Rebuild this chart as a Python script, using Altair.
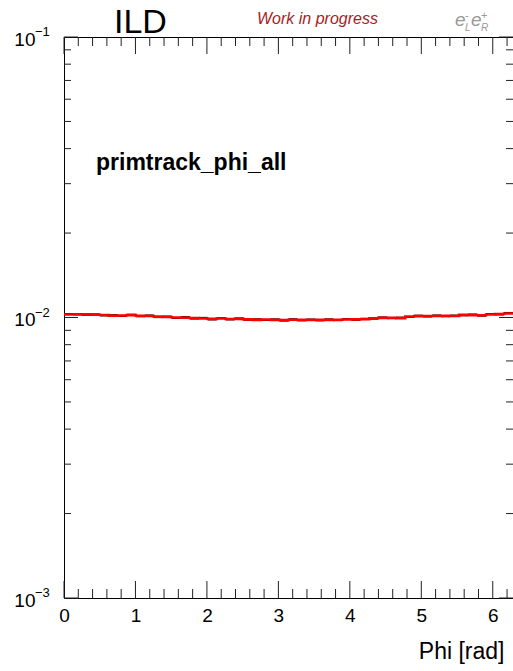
import math
import numpy as np
import pandas as pd
import altair as alt

FONT = "Liberation Sans"
TWO_PI = 2 * math.pi
W, H = 449, 561

# Normalised track yield per phi bin (50 bins over 0..2pi)
sim_values = [
    0.01025, 0.01025, 0.01026, 0.01023, 0.01021, 0.01015, 0.01017, 0.01020, 0.01014, 0.01012,
    0.01007, 0.01004, 0.01000, 0.00998, 0.00996, 0.00992, 0.00989, 0.00992, 0.00988, 0.00989,
    0.00985, 0.00981, 0.00984, 0.00981, 0.00979, 0.00982, 0.00981, 0.00980, 0.00981, 0.00981,
    0.00982, 0.00984, 0.00985, 0.00986, 0.00994, 0.00997, 0.00998, 0.00995, 0.01008, 0.01011,
    0.01012, 0.01012, 0.01014, 0.01012, 0.01022, 0.01020, 0.01019, 0.01025, 0.01029, 0.01033,
]
ref_values = [
    0.01029, 0.01027, 0.01022, 0.01026, 0.01017, 0.01019, 0.01013, 0.01023, 0.01010, 0.01017,
    0.01003, 0.01008, 0.00996, 0.01003, 0.00991, 0.00997, 0.00984, 0.00995, 0.00984, 0.00993,
    0.00981, 0.00986, 0.00980, 0.00985, 0.00975, 0.00986, 0.00977, 0.00984, 0.00977, 0.00985,
    0.00978, 0.00988, 0.00981, 0.00990, 0.00990, 0.01001, 0.00994, 0.00999, 0.01004, 0.01015,
    0.01008, 0.01017, 0.01010, 0.01016, 0.01018, 0.01025, 0.01015, 0.01029, 0.01025, 0.01038,
]

x_major = [0, 1, 2, 3, 4, 5, 6]
x_minor = [round(0.2 * i, 1) for i in range(32) if i % 5 != 0]
y_major = [0.001, 0.01, 0.1]
y_exponents = ["\u22123", "\u22122", "\u22121"]
y_minor = [m * 10.0 ** e for e in (-3, -2) for m in range(2, 10)]

n_bins = len(sim_values)
edges = np.linspace(0, TWO_PI, n_bins + 1)

xs = alt.Scale(domain=[0, TWO_PI], nice=False, zero=False)
ys = alt.Scale(type="log", domain=[0.001, 0.1], nice=False)

x_axis = alt.Axis(values=x_major, format="d", ticks=False, domain=False, grid=False,
                  labelFontSize=19, labelFont=FONT, labelColor="#000", labelPadding=8,
                  labelFlush=False, title="Phi [rad]", titleFont=FONT, titleFontSize=23,
                  titleFontWeight="normal", titleColor="#000", titleAnchor="end",
                  titleAlign="right", titleBaseline="alphabetic", titleX=W - 9, titleY=60)
y_axis = alt.Axis(values=y_major, labelExpr="'10'", ticks=False, domain=False, grid=False,
                  labelFontSize=19, labelFont=FONT, labelColor="#000", labelPadding=29,
                  labelBaseline="middle", labelOffset=2, title=None)

# reference histogram: one horizontal segment per bin
ref_df = pd.DataFrame({"lo": edges[:-1], "hi": edges[1:], "v": ref_values})
ref = alt.Chart(ref_df).mark_rule(color="#000", strokeWidth=2).encode(
    x=alt.X("lo:Q", scale=xs, axis=x_axis), x2="hi:Q",
    y=alt.Y("v:Q", scale=ys, axis=y_axis),
)

# simulation histogram drawn as a step line
sim_df = pd.DataFrame({"x": edges, "v": sim_values + [sim_values[-1]]})
sim = alt.Chart(sim_df).mark_line(color="#ff0000", strokeWidth=2.6, interpolate="step-after").encode(
    x=alt.X("x:Q", scale=xs), y=alt.Y("v:Q", scale=ys),
)

# inward-pointing ROOT style ticks on all four sides
def xticks(vals, length):
    d = pd.DataFrame({"x": vals})
    bottom = alt.Chart(d).mark_rule(color="#222", strokeWidth=1).encode(
        x=alt.X("x:Q", scale=xs), y=alt.value(H), y2=alt.value(H - length))
    top = alt.Chart(d).mark_rule(color="#222", strokeWidth=1).encode(
        x=alt.X("x:Q", scale=xs), y=alt.value(0), y2=alt.value(length))
    return [bottom, top]

def yticks(vals, length):
    d = pd.DataFrame({"y": vals})
    left = alt.Chart(d).mark_rule(color="#222", strokeWidth=1).encode(
        y=alt.Y("y:Q", scale=ys), x=alt.value(0), x2=alt.value(length))
    right = alt.Chart(d).mark_rule(color="#222", strokeWidth=1).encode(
        y=alt.Y("y:Q", scale=ys), x=alt.value(W - length), x2=alt.value(W))
    return [left, right]

tick_layers = (xticks(x_major, 17) + xticks(x_minor, 9)
               + yticks(y_major, 14) + yticks(y_minor, 7))

exp_df = pd.DataFrame({"y": y_major, "t": y_exponents})
exps = alt.Chart(exp_df).mark_text(font=FONT, fontSize=13, align="left", baseline="middle",
                                   dy=-5, color="#000").encode(
    y=alt.Y("y:Q", scale=ys), x=alt.value(-29), text="t:N")

def label(text, px, py, size, **kw):
    d = pd.DataFrame({"t": [text]})
    return alt.Chart(d).mark_text(font=FONT, fontSize=size, baseline="alphabetic",
                                  align=kw.pop("align", "left"), **kw).encode(
        x=alt.value(px - 64), y=alt.value(py - 37), text="t:N")

texts = [
    label("ILD", 114, 33, 34, color="#000"),
    label("Work in progress", 257, 24, 16, fontStyle="italic", color="#a81c22"),
    label("primtrack_phi_all", 96, 170, 23, fontWeight="bold", color="#000"),
    # e_L^- e_R^+
    label("e", 455, 26, 19, fontStyle="italic", color="#999"),
    label("L", 465, 31, 10, fontStyle="italic", color="#999"),
    label("-", 465, 19, 11, color="#999"),
    label("e", 471, 26, 19, fontStyle="italic", color="#999"),
    label("R", 481, 31, 10, fontStyle="italic", color="#999"),
    label("+", 481, 19, 11, color="#999"),
]

chart = alt.layer(ref, sim, *tick_layers, exps, *texts).properties(
    width=W, height=H,
    autosize=alt.AutoSizeParams(type="none"),
    padding={"left": 64, "top": 37, "right": 0, "bottom": 73},
    background="white",
).configure_view(stroke="#000", strokeWidth=1)

chart.save("out.html", embed_options={"renderer": "svg", "actions": False})
